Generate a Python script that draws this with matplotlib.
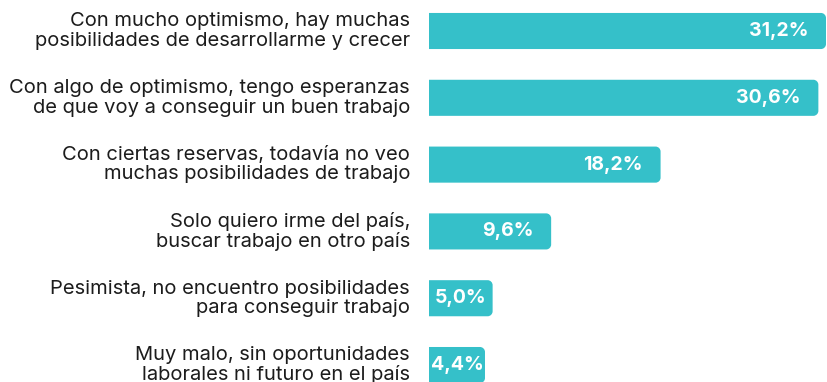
import matplotlib.pyplot as plt
from matplotlib.path import Path
from matplotlib.patches import PathPatch
from matplotlib.transforms import offset_copy

categories = [
    "Con mucho optimismo, hay muchas\nposibilidades de desarrollarme y crecer",
    "Con algo de optimismo, tengo esperanzas\nde que voy a conseguir un buen trabajo",
    "Con ciertas reservas, todavía no veo\nmuchas posibilidades de trabajo",
    "Solo quiero irme del país,\nbuscar trabajo en otro país",
    "Pesimista, no encuentro posibilidades\npara conseguir trabajo",
    "Muy malo, sin oportunidades\nlaborales ni futuro en el país",
]
values = [31.2, 30.6, 18.2, 9.6, 5.0, 4.4]

BAR_COLOR = "#35C0C9"
TEXT_COLOR = "#1c1c1c"
FONT = ["Inter", "DejaVu Sans"]

W, H, DPI = 827, 382, 100
fig = plt.figure(figsize=(W / DPI, H / DPI), dpi=DPI)
ax_left, ax_right = 429, 827
ax = fig.add_axes([ax_left / W, 0, (ax_right - ax_left) / W, 1])

xmax = values[0] * (ax_right - ax_left) / (826 - ax_left)
ax.set_xlim(0, xmax)
ax.set_ylim(5.254, -0.464)
ax.axis("off")

bar_h = 0.54
# rounding radius of the right corners, in pixels converted to data units
r_px = 5
rx = r_px * xmax / (ax_right - ax_left)
ry = r_px * (5.254 + 0.464) / H
k = 0.5523  # bezier constant for a quarter circle


def right_rounded_bar(x1, yc, h):
    y0, y1 = yc - h / 2, yc + h / 2
    verts = [
        (0, y0),
        (x1 - rx, y0),
        (x1 - rx + k * rx, y0), (x1, y0 + ry - k * ry), (x1, y0 + ry),
        (x1, y1 - ry),
        (x1, y1 - ry + k * ry), (x1 - rx + k * rx, y1), (x1 - rx, y1),
        (0, y1),
        (0, y0),
    ]
    codes = [Path.MOVETO, Path.LINETO,
             Path.CURVE4, Path.CURVE4, Path.CURVE4,
             Path.LINETO,
             Path.CURVE4, Path.CURVE4, Path.CURVE4,
             Path.LINETO, Path.CLOSEPOLY]
    return Path(verts, codes)


for i, (cat, v) in enumerate(zip(categories, values)):
    ax.add_patch(PathPatch(right_rounded_bar(v, i, bar_h),
                           facecolor=BAR_COLOR, edgecolor="none", clip_on=True))

    label = f"{v:.1f}%".replace(".", ",")
    if v < 6:
        ax.text(v / 2, i, label, ha="center", va="center", color="white",
                fontsize=14, fontweight="bold", family=FONT)
    else:
        tr = offset_copy(ax.transData, fig=fig, x=-18, y=0, units="dots")
        ax.text(v, i, label, ha="right", va="center", color="white",
                fontsize=14, fontweight="bold", family=FONT, transform=tr)

    # category text to the left of the axes
    tr_cat = offset_copy(ax.transData, fig=fig, x=410 - ax_left, y=0, units="dots")
    ax.text(0, i, cat, ha="right", va="center", color=TEXT_COLOR,
            fontsize=14.5, family=FONT, linespacing=1.1,
            transform=tr_cat, clip_on=False)

fig.savefig("out.png", dpi=DPI)
